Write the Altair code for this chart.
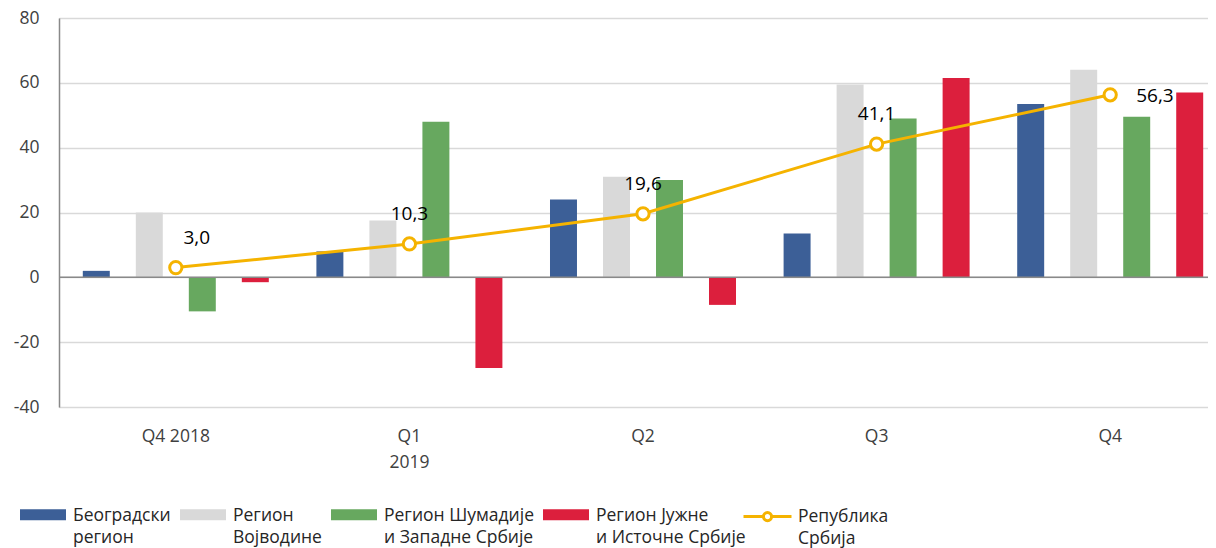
import altair as alt
import pandas as pd

quarters = ["Q4 2018", "Q1\n2019", "Q2", "Q3", "Q4"]
series = [
    "Београдски\nрегион",
    "Регион\nВојводине",
    "Регион Шумадије\nи Западне Србије",
    "Регион Јужне\nи Источне Србије",
]
beograd = [2.0, 8.0, 24.0, 13.5, 53.5]
vojvodina = [20.0, 17.5, 31.0, 59.5, 64.0]
sumadija = [-10.5, 48.0, 30.0, 49.0, 49.5]
juzna = [-1.5, -28.0, -8.5, 61.5, 57.0]
srbija = [3.0, 10.3, 19.6, 41.1, 56.3]
srbija_labels = ["3,0", "10,3", "19,6", "41,1", "56,3"]
label_pos = ["upright", "up", "up", "up", "right"]
line_name = "Република\nСрбија"
colors = ["#3C5F97", "#D9D9D9", "#67A85F", "#DC1F3D"]
line_color = "#F5B300"

FONT = "Open Sans"

rows = []
for vals, s in zip([beograd, vojvodina, sumadija, juzna], series):
    for q, v in zip(quarters, vals):
        rows.append({"q": q, "s": s, "v": v})
bars_df = pd.DataFrame(rows)
line_df = pd.DataFrame({"q": quarters, "v": srbija, "lab": srbija_labels,
                        "pos": label_pos, "name": [line_name] * len(quarters)})

x_enc = alt.X(
    "q:N", sort=quarters, title=None,
    scale=alt.Scale(range=[0, 1168], paddingInner=0, paddingOuter=0),
    axis=alt.Axis(labelAngle=0, domain=False, ticks=False, grid=False,
                  labelPadding=20, labelFontSize=17.5, labelFont=FONT,
                  labelColor="#404040", labelLineHeight=26,
                  labelExpr="split(datum.label, '\\n')"),
)
y_enc = alt.Y(
    "v:Q", title=None,
    scale=alt.Scale(domain=[-40, 80], nice=False),
    axis=alt.Axis(values=[-40, -20, 0, 20, 40, 60, 80], ticks=False,
                  domainColor="#898989", domainWidth=1.5,
                  gridColor="#D9D9D9", gridWidth=1.5,
                  labelFontSize=17.5, labelFont=FONT, labelColor="#404040",
                  labelPadding=20,
                  labelExpr="replace(datum.label, '\u2212', '-')"),
)

bars = alt.Chart(bars_df).mark_bar().encode(
    x=x_enc,
    xOffset=alt.XOffset("s:N", sort=series,
                        scale=alt.Scale(paddingInner=0.491, paddingOuter=0.449)),
    y=y_enc,
    fill=alt.Fill("s:N", sort=series,
                  scale=alt.Scale(domain=series, range=colors),
                  legend=alt.Legend(
                      title=None, orient="none", legendX=-39, legendY=466,
                      direction="horizontal", columns=4, columnPadding=9,
                      symbolType="M-1,0.09H1V0.57H-1Z", symbolSize=2116,
                      symbolStrokeWidth=0, labelOffset=7,
                      labelFont=FONT, labelFontSize=17.5, labelColor="#262626",
                      labelBaseline="top",
                      labelExpr="split(datum.label, '\\n')")),
)

zero = alt.Chart(pd.DataFrame({"z": [0]})).mark_rule(
    color="#898989", strokeWidth=1.5).encode(y=alt.Y("z:Q"))

line = alt.Chart(line_df).mark_line(strokeWidth=3).encode(
    x=alt.X("q:N", sort=quarters),
    y=alt.Y("v:Q"),
    stroke=alt.Stroke("name:N", scale=alt.Scale(domain=[line_name], range=[line_color]),
                      legend=alt.Legend(
                          title=None, orient="none", legendX=683, legendY=464,
                          symbolType="M-1,0.38H-0.17M0.17,0.38H1M0.17,0.38A0.17,0.17 0 1,1 -0.17,0.38A0.17,0.17 0 1,1 0.17,0.38",
                          symbolSize=2304, symbolStrokeWidth=3,
                          symbolFillColor="white", labelOffset=5,
                          labelFont=FONT, labelFontSize=17.5, labelColor="#262626",
                          labelBaseline="top",
                          labelExpr="split(datum.label, '\\n')")),
)

points = alt.Chart(line_df).mark_point(
    shape="circle", filled=True, fill="white", stroke=line_color,
    strokeWidth=3, size=150, opacity=1).encode(
    x=alt.X("q:N", sort=quarters), y=alt.Y("v:Q"))

def labels(pos, **kw):
    return alt.Chart(line_df).transform_filter(
        alt.datum.pos == pos).mark_text(
        font=FONT, fontSize=19, color="#000000", **kw).encode(
        x=alt.X("q:N", sort=quarters), y=alt.Y("v:Q"), text="lab:N")

t_up = labels("up", dy=-30)
t_upright = labels("upright", dx=21, dy=-30)
t_right = labels("right", dx=26, align="left", dy=1)

chart = alt.layer(bars, zero, line, points, t_up, t_upright, t_right).properties(
    width=1149, height=389,
    autosize=alt.AutoSizeParams(type="none"),
    padding={"left": 51, "top": 10, "right": 0, "bottom": 141},
).configure_view(stroke=None).configure(
    style={"guide-label": {"lineHeight": 22}}
)

chart.save("out.html", embed_options={"renderer": "svg", "actions": False})
